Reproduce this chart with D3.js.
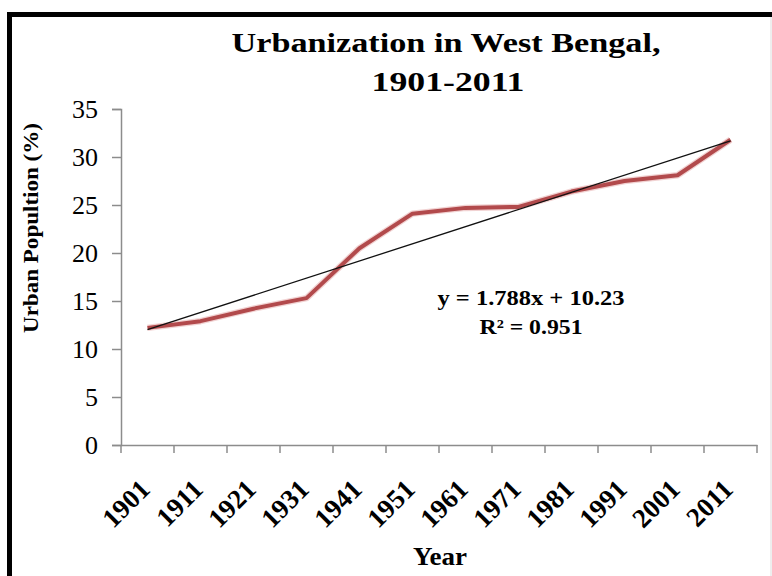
<!DOCTYPE html>
<html><head><meta charset="utf-8">
<script src="https://cdn.jsdelivr.net/npm/d3@7"></script>
<style>body{margin:0;background:#fff}svg{display:block}</style>
</head><body>
<script>
const years = ["1901","1911","1921","1931","1941","1951","1961","1971","1981","1991","2001","2011"];
const urbanPct = [12.2,12.9,14.2,15.3,20.5,24.1,24.7,24.8,26.4,27.5,28.1,31.8];
const yTicks = [0,5,10,15,20,25,30,35];
const trendSlope = 1.788, trendIntercept = 10.23;
const titleLines = ["Urbanization in West Bengal,", "1901-2011"];
const eqLines = ["y = 1.788x + 10.23", "R² = 0.951"];

const W = 772, H = 576;
const svg = d3.select("body").append("svg").attr("width", W).attr("height", H);
const serif = "'Liberation Serif','Times New Roman',serif";

// frame
svg.append("rect").attr("x",0).attr("y",0).attr("width",W).attr("height",H).attr("fill","#fff");
svg.append("line").attr("x1",7).attr("x2",W).attr("y1",14.5).attr("y2",14.5).attr("stroke","#000").attr("stroke-width",5);
svg.append("line").attr("x1",9.5).attr("x2",9.5).attr("y1",12).attr("y2",H).attr("stroke","#000").attr("stroke-width",5);
svg.append("line").attr("x1",771).attr("x2",771).attr("y1",17).attr("y2",H).attr("stroke","#ddd").attr("stroke-width",1);

const x = d3.scaleBand().domain(years).range([121, 757]);
const y = d3.scaleLinear().domain([0, 35]).range([445, 109]);
const cx = d => x(d) + x.bandwidth()/2;

// title
svg.append("text").attr("x",446).attr("y",52).attr("text-anchor","middle").attr("font-family",serif)
  .attr("font-weight","bold").attr("font-size",28).attr("textLength",429).attr("lengthAdjust","spacingAndGlyphs").text(titleLines[0]);
svg.append("text").attr("x",448).attr("y",91).attr("text-anchor","middle").attr("font-family",serif)
  .attr("font-weight","bold").attr("font-size",28).attr("textLength",153).attr("lengthAdjust","spacingAndGlyphs").text(titleLines[1]);

// y axis
const yAxis = svg.append("g").attr("transform","translate(121,0)")
  .call(d3.axisLeft(y).tickValues(yTicks).tickSize(9).tickPadding(14).tickFormat(d3.format("d")));
yAxis.select(".domain").attr("stroke","#8c8c8c").attr("stroke-width",1.5);
yAxis.selectAll(".tick line").attr("stroke","#8c8c8c").attr("stroke-width",1.5);
yAxis.selectAll(".tick text").attr("font-family",serif).attr("font-size",26).attr("fill","#000");

// x axis
const xAxis = svg.append("g").attr("transform","translate(0,445)")
  .call(d3.axisBottom(x).tickSize(0).tickFormat(""));
xAxis.select(".domain").attr("stroke","#8c8c8c").attr("stroke-width",1.5);
const bounds = years.map(d => x(d)).concat([x(years[years.length-1]) + x.bandwidth()]);
svg.append("g").selectAll("line").data(bounds).join("line")
  .attr("x1",d=>d).attr("x2",d=>d).attr("y1",445).attr("y2",453).attr("stroke","#8c8c8c").attr("stroke-width",1.5);
svg.append("g").selectAll("text").data(years).join("text")
  .attr("transform", d => `translate(${cx(d)+4},${491}) rotate(-45)`)
  .attr("text-anchor","end")
  .attr("font-family",serif).attr("font-weight","bold").attr("font-size",27).text(d=>d);

// axis titles
svg.append("text").attr("transform","translate(38,228) rotate(-90)").attr("text-anchor","middle")
  .attr("font-family",serif).attr("font-weight","bold").attr("font-size",22)
  .attr("textLength",210).attr("lengthAdjust","spacingAndGlyphs").text("Urban Popultion (%)");
svg.append("text").attr("x",440).attr("y",565).attr("text-anchor","middle")
  .attr("font-family",serif).attr("font-weight","bold").attr("font-size",26)
  .attr("textLength",54).attr("lengthAdjust","spacingAndGlyphs").text("Year");

// data line
const pts = years.map((d,i)=>[cx(d), y(urbanPct[i])]);
svg.append("path").attr("d", d3.line()(pts)).attr("fill","none").attr("stroke","#e8b4b4").attr("stroke-width",6.5).attr("stroke-linejoin","round").attr("opacity",0.6);
svg.append("path").attr("d", d3.line()(pts)).attr("fill","none").attr("stroke","#b24a4c").attr("stroke-width",4).attr("stroke-linejoin","round");

// trendline
const xi0 = 1, xi1 = years.length;
svg.append("line").attr("x1",cx(years[0])).attr("y1",y(trendSlope*xi0+trendIntercept))
  .attr("x2",cx(years[years.length-1])).attr("y2",y(trendSlope*xi1+trendIntercept))
  .attr("stroke","#111").attr("stroke-width",1.3);

// equation
svg.append("text").attr("x",531).attr("y",305).attr("text-anchor","middle").attr("font-family",serif)
  .attr("font-weight","bold").attr("font-size",21).attr("textLength",187).attr("lengthAdjust","spacingAndGlyphs").text(eqLines[0]);
svg.append("text").attr("x",531).attr("y",334).attr("text-anchor","middle").attr("font-family",serif)
  .attr("font-weight","bold").attr("font-size",21).attr("textLength",103).attr("lengthAdjust","spacingAndGlyphs").text(eqLines[1]);
</script>
</body></html>
